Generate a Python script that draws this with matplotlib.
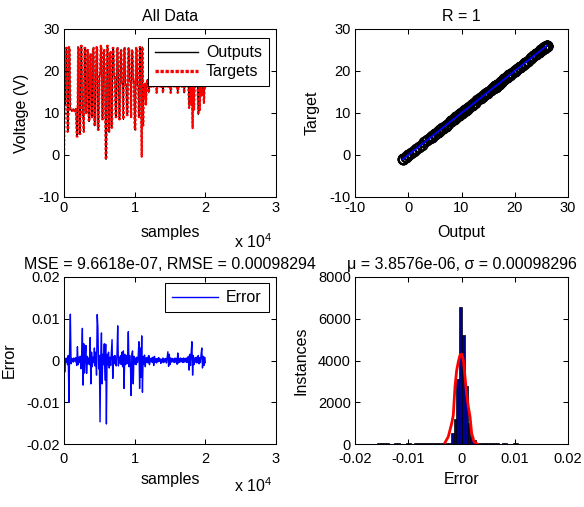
import numpy as np
import matplotlib
matplotlib.use('Agg')
import matplotlib.pyplot as plt
from matplotlib.ticker import FuncFormatter
from matplotlib.lines import Line2D

plt.rcParams['font.family'] = ['Liberation Sans', 'DejaVu Sans']
plt.rcParams['mathtext.fontset'] = 'custom'
plt.rcParams['mathtext.rm'] = 'Liberation Sans'
plt.rcParams['mathtext.it'] = 'Liberation Sans:italic'
plt.rcParams['axes.unicode_minus'] = False

# ---------------- data ----------------
SAMPLE_STEP = 100  # samples between listed points

targets = [
    0.0, 12.0, 12.0, 25.5, 25.5, 5.5, 5.8, 25.7, 25.5, 10.8,
    10.8, 10.5, 10.6, 11.0, 10.7, 10.4, 11.0, 11.0, 4.4, 4.4,
    25.7, 25.5, 5.0, 5.0, 26.0, 26.0, 9.5, 9.8, 5.5, 25.5,
    25.5, 10.0, 10.0, 25.0, 25.0, 8.0, 8.0, 24.0, 24.0, 9.0,
    9.0, 25.5, 25.5, 7.0, 7.0, 19.0, 25.7, 25.7, 6.0, 6.0,
    19.0, 19.0, 26.0, 26.0, 8.5, 8.5, 25.0, 25.0, 17.0, -1.0,
    -1.0, 26.0, 26.0, 5.5, 5.5, 24.5, 24.5, 6.5, 6.5, 25.5,
    25.5, 18.6, 18.6, 9.0, 9.0, 25.5, 25.5, 18.6, 8.5, 8.5,
    25.0, 25.0, 17.0, 17.0, 8.5, 25.5, 25.5, 16.7, 16.7, 9.5,
    9.5, 25.5, 25.5, 17.5, 17.5, 9.0, 25.0, 25.0, 17.5, 17.5,
    6.0, 6.0, 25.5, 25.5, 16.5, 16.5, 9.0, 25.7, 25.7, 12.0,
    -0.4, 25.7, 7.0, 16.5, 13.6, 17.0, 12.0, 16.3, 18.0, 16.3,
    14.8, 16.5, 19.0, 16.3, 16.3, 22.0, 16.4, 16.3, 16.4, 16.3,
    20.0, 14.8, 16.4, 16.3, 18.0, 16.4, 16.3, 21.0, 16.3, 16.4,
    14.8, 16.3, 16.4, 19.0, 16.3, 16.4, 23.0, 16.3, 16.4, 16.3,
    16.5, 14.8, 16.4, 20.0, 16.3, 16.4, 16.3, 18.0, 16.4, 16.3,
    16.5, 14.8, 16.4, 16.3, 21.0, 16.4, 16.3, 16.4, 16.3, 19.0,
    14.8, 16.4, 16.3, 16.4, 16.5, 16.3, 16.4, 11.2, 16.5, 12.0,
    24.0, 16.3, 6.4, 20.0, 10.8, 16.4, 16.3, 22.0, 16.4, 16.3,
    9.6, 16.5, 10.5, 16.3, 16.4, 14.0, 16.3, 16.4, 12.4, 16.5,
    16.0,
]

errors = [
    0.0018, -0.0028, 0.0005, -0.0004, 0.0006, -0.0010, 0.0012, -0.0100, 0.0033, 0.0111,
    -0.0008, 0.0005, 0.0003, -0.0004, 0.0006, 0.0004, -0.0003, 0.0007, -0.0012, 0.0033,
    -0.0010, 0.0008, -0.0005, 0.0010, -0.0020, 0.0015, 0.0077, -0.0059, 0.0040, -0.0030,
    0.0012, 0.0036, -0.0031, 0.0010, -0.0008, 0.0006, -0.0010, 0.0055, -0.0056, 0.0020,
    -0.0015, 0.0008, -0.0005, 0.0030, -0.0013, 0.0020, -0.0035, 0.0110, 0.0077, -0.0020,
    0.0012, -0.0147, 0.0010, 0.0066, -0.0056, 0.0015, -0.0010, 0.0040, -0.0047, 0.0039,
    -0.0152, 0.0015, -0.0010, 0.0020, -0.0018, 0.0008, -0.0012, 0.0020, 0.0050, -0.0043,
    0.0010, -0.0008, 0.0012, -0.0005, -0.0013, 0.0015, 0.0083, -0.0013, 0.0008, -0.0006,
    0.0012, -0.0010, 0.0020, -0.0015, 0.0023, -0.0067, 0.0015, -0.0010, 0.0012, -0.0008,
    0.0010, 0.0069, -0.0015, 0.0012, -0.0010, -0.0084, 0.0015, 0.0023, -0.0056, 0.0010,
    -0.0008, 0.0006, -0.0010, 0.0008, -0.0005, 0.0010, 0.0045, -0.0067, 0.0030, -0.0040,
    0.0059, -0.0076, 0.0010, -0.0008, 0.0013, -0.0015, 0.0006, -0.0004, 0.0008, -0.0006,
    0.0012, -0.0010, 0.0005, -0.0003, 0.0006, -0.0005, 0.0008, -0.0012, 0.0010, -0.0004,
    0.0004, -0.0006, 0.0005, -0.0003, 0.0007, -0.0002, 0.0004, -0.0007, 0.0003, -0.0004,
    0.0006, -0.0005, 0.0004, -0.0003, 0.0005, -0.0006, 0.0008, 0.0021, -0.0014, 0.0015,
    -0.0010, 0.0006, -0.0004, 0.0005, -0.0003, 0.0004, -0.0005, 0.0006, -0.0004, 0.0005,
    -0.0009, 0.0018, -0.0006, 0.0005, -0.0004, 0.0006, -0.0003, 0.0004, -0.0005, 0.0006,
    -0.0004, 0.0005, -0.0003, 0.0006, -0.0005, 0.0004, 0.0010, -0.0023, 0.0015, -0.0012,
    0.0020, 0.0045, -0.0035, 0.0012, -0.0010, 0.0006, -0.0004, 0.0008, -0.0006, 0.0005,
    0.0012, -0.0008, 0.0007, -0.0005, 0.0015, 0.0030, -0.0018, 0.0010, -0.0012, 0.0008,
    -0.0005,
]

# regression band (values read along the diagonal band)
reg_values = [
    -1.0, -0.5, 0.0, 0.5, 1.0, 1.5, 2.0, 2.5, 3.0, 3.5, 4.0, 4.5, 5.0, 5.5,
    6.0, 6.5, 7.0, 7.5, 8.0, 8.5, 9.0, 9.5, 10.0, 10.5, 11.0, 11.5, 12.0,
    12.5, 13.0, 13.5, 14.0, 14.5, 15.0, 15.5, 16.0, 16.5, 17.0, 17.5, 18.0,
    18.5, 19.0, 19.5, 20.0, 20.5, 21.0, 21.5, 22.0, 22.5, 23.0, 23.5, 24.0,
    24.5, 25.0, 25.5, 26.0,
]

# error histogram
HIST_START = -0.0158
HIST_BIN_WIDTH = 0.00053
hist_counts = [
    40, 45, 40, 35, 0, 0, 35, 30, 0, 0,
    30, 35, 0, 30, 35, 30, 35, 30, 35, 40,
    35, 40, 45, 40, 50, 60, 510, 1180, 3100, 6550,
    5220, 2800, 1000, 400, 170, 50, 45, 40, 35, 30,
    30, 25, 30, 0, 35, 30, 0, 0, 40, 30,
]

# fitted normal curve
fit_x = [-0.0031, -0.00248, -0.00184, -0.00154, -0.00122, -0.00090, -0.00060,
         -0.00028, 0.00004, 0.00034, 0.00066, 0.00097, 0.00128, 0.00160,
         0.00191, 0.00235, 0.00297]
fit_y = [64, 350, 990, 1390, 2750, 3540, 3940, 4260, 4310, 4020, 3220, 2350,
         1790, 1310, 510, 110, 0]

title_all = 'All Data'
title_reg = 'R = 1'
title_err = 'MSE = 9.6618e-07, RMSE = 0.00098294'
title_hist = 'μ = 3.8576e-06, σ = 0.00098296'

# ---------------- figure ----------------
n = min(len(targets), len(errors))
t = np.array(targets[:n])
e = np.array(errors[:n])
samples = np.arange(n) * SAMPLE_STEP
outputs = t - e

W, H = 584, 507
fig = plt.figure(figsize=(W / 100, H / 100), dpi=100)
fig.patch.set_facecolor('white')


def axes_px(l, top, r, b):
    return fig.add_axes([l / W, 1 - b / H, (r - l) / W, (b - top) / H])


ax1 = axes_px(64, 29, 276, 197)
ax2 = axes_px(355, 29, 568, 197)
ax3 = axes_px(64, 277, 276, 444)
ax4 = axes_px(355, 277, 568, 444)

TICK_FS = 10.5
LAB_FS = 11.5
gfmt = FuncFormatter(lambda v, p: '%g' % round(v, 10))
e4fmt = FuncFormatter(lambda v, p: '%g' % round(v / 1e4, 10))


def style(ax, xpad=3):
    ax.tick_params(direction='in', length=3.5, width=0.75, top=True, right=True,
                   labelsize=TICK_FS, pad=3)
    ax.tick_params(axis='x', pad=xpad)
    for s in ax.spines.values():
        s.set_linewidth(0.75)
        s.set_color('black')


style(ax1, 3)
style(ax2, 3)
style(ax3, 6)
style(ax4, 6)

RED_DOTS = (0, (1.2, 0.8))

# --- All Data ---
ax1.plot(samples, outputs, color='black', lw=0.8)
ax1.plot(samples, t, color='red', lw=1.6, linestyle=RED_DOTS)
ax1.set_xlim(0, 30000)
ax1.set_ylim(-10, 30)
ax1.set_xticks([0, 10000, 20000, 30000])
ax1.xaxis.set_major_formatter(e4fmt)
ax1.set_yticks([-10, 0, 10, 20, 30])
ax1.yaxis.set_major_formatter(gfmt)
ax1.set_title(title_all, fontsize=LAB_FS, pad=6)
ax1.set_xlabel('samples', fontsize=LAB_FS, labelpad=7)
ax1.set_ylabel('Voltage (V)', fontsize=LAB_FS, labelpad=7)
ax1.text(0.981, -51 / 168, r'x 10$^{4}$', transform=ax1.transAxes, ha='right',
         va='baseline', fontsize=LAB_FS)
handles1 = [Line2D([], [], color='black', lw=1.0),
            Line2D([], [], color='red', lw=2.4, linestyle=(0, (1.0, 0.5)))]
leg1 = ax1.legend(handles1, ['Outputs', 'Targets'], loc='upper right',
                  bbox_to_anchor=(1 - 7 / 212, 1 - 9 / 168),
                  borderaxespad=0, fancybox=False, framealpha=1, edgecolor='black',
                  fontsize=LAB_FS, handlelength=2.7, borderpad=0.45,
                  labelspacing=0.25, handletextpad=0.5)
leg1.get_frame().set_linewidth(0.75)

# --- Regression ---
ax2.plot(reg_values, reg_values, 'o', mfc='none', mec='black', ms=7, mew=1.5)
ax2.plot(outputs, t, 'o', mfc='none', mec='black', ms=7, mew=1.5)
coef = np.polyfit(outputs, t, 1)
xs = np.array([min(reg_values), max(reg_values)])
ax2.plot(xs, np.polyval(coef, xs), color='blue', lw=1.3)
ax2.set_xlim(-10, 30)
ax2.set_ylim(-10, 30)
ax2.set_xticks([-10, 0, 10, 20, 30])
ax2.set_yticks([-10, 0, 10, 20, 30])
ax2.xaxis.set_major_formatter(gfmt)
ax2.yaxis.set_major_formatter(gfmt)
ax2.set_title(title_reg, fontsize=LAB_FS, pad=6)
ax2.set_xlabel('Output', fontsize=LAB_FS, labelpad=7)
ax2.set_ylabel('Target', fontsize=LAB_FS, labelpad=7)

# --- Error ---
ax3.plot(samples, e, color='blue', lw=1.0, label='Error')
ax3.set_xlim(0, 30000)
ax3.set_ylim(-0.02, 0.02)
ax3.set_xticks([0, 10000, 20000, 30000])
ax3.xaxis.set_major_formatter(e4fmt)
ax3.set_yticks([-0.02, -0.01, 0, 0.01, 0.02])
ax3.yaxis.set_major_formatter(gfmt)
ax3.set_title(title_err, fontsize=LAB_FS, pad=6)
ax3.set_xlabel('samples', fontsize=LAB_FS, labelpad=4)
ax3.set_ylabel('Error', fontsize=LAB_FS, labelpad=7)
ax3.text(0.981, -48 / 167, r'x 10$^{4}$', transform=ax3.transAxes, ha='right',
         va='baseline', fontsize=LAB_FS)
leg3 = ax3.legend(loc='upper right', bbox_to_anchor=(1 - 7 / 212, 1 - 6 / 167),
                  borderaxespad=0, fancybox=False, framealpha=1, edgecolor='black',
                  fontsize=LAB_FS, handlelength=2.9, borderpad=0.45,
                  handletextpad=0.5)
leg3.get_frame().set_linewidth(0.75)

# --- Histogram ---
edges = HIST_START + HIST_BIN_WIDTH * np.arange(len(hist_counts) + 1)
centers = (edges[:-1] + edges[1:]) / 2
ax4.bar(centers, hist_counts, width=HIST_BIN_WIDTH, color=(0, 0, 0.56),
        edgecolor='black', linewidth=0.5)
ax4.plot(fit_x, fit_y, color='red', lw=2.0)
ax4.set_xlim(-0.02, 0.02)
ax4.set_ylim(0, 8000)
ax4.set_xticks([-0.02, -0.01, 0, 0.01, 0.02])
ax4.set_yticks([0, 2000, 4000, 6000, 8000])
ax4.xaxis.set_major_formatter(gfmt)
ax4.yaxis.set_major_formatter(gfmt)
ax4.set_title(title_hist, fontsize=LAB_FS, pad=6)
ax4.set_xlabel('Error', fontsize=LAB_FS, labelpad=4)
ax4.set_ylabel('Instances', fontsize=LAB_FS, labelpad=7)

fig.savefig('out.png', dpi=100, facecolor='white')
